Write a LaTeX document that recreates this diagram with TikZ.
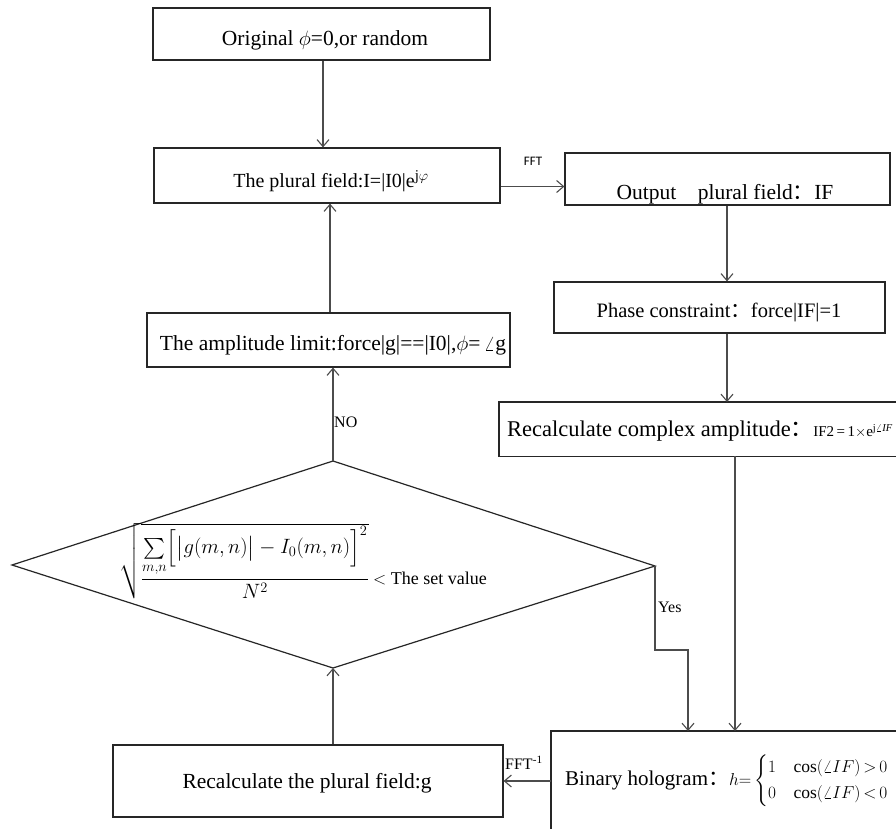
\documentclass[tikz,border=0pt]{standalone}
\usepackage{amsmath}
\usepackage{fontspec}
\setmainfont{Liberation Serif}
\newfontfamily\cjk{Noto Sans CJK SC}
\newfontfamily\fftfont{Carlito}
\usetikzlibrary{arrows.meta,calc}
\begin{document}
\begin{tikzpicture}[x=1pt,y=-1pt,
 box/.style={draw=black!85,line width=1.2pt,rectangle,inner sep=0pt},
 edge/.style={draw=black!85,line width=1.2pt},
 txt/.style={inner sep=0pt,font=\fontsize{21.5}{24}\selectfont},
 arr/.style={draw=black!70,line width=1.3pt,-{Straight Barb[length=7pt,width=12pt,line width=1.1pt]}},
 lbl/.style={inner sep=0pt,font=\fontsize{16}{18}\selectfont}]
\useasboundingbox[fill=white] (0,0) rectangle (896,829);

% column coordinates
\coordinate (c323) at (323,0);
\coordinate (c330) at (330,0);
\coordinate (c333) at (333,0);
\coordinate (c727) at (727,0);
\coordinate (c735) at (735,0);

% boxes
\node[box,minimum width=337pt,minimum height=52pt] (orig) at (321.5,34) {};
\node[txt] (origt) at (325,40) {Original $\phi$=0,or random};
\node[box,minimum width=346pt,minimum height=55pt] (plural) at (327,175.5) {};
\node[txt,font=\fontsize{20}{22}\selectfont] (pluralt) at (331,181) {The plural field:I=|I0|e\textsuperscript{\fontsize{15}{17}\selectfont j$\varphi$}};
\node[box,minimum width=325pt,minimum height=52pt] (out) at (727.5,179) {};
\node[txt] (outt) at (725,194) {Output\quad plural field{\cjk ：}IF};
\node[box,minimum width=331pt,minimum height=51pt] (phase) at (719.5,307.5) {};
\node[txt,font=\fontsize{20.5}{22}\selectfont] (phaset) at (719,312) {Phase constraint{\cjk ：}force|IF|=1};

\node[draw=none,inner sep=0pt,anchor=north west,minimum width=397pt,minimum height=54pt] (recalc) at (499,402) {};
\draw[edge] (recalc.north east) -- (recalc.north west) -- (recalc.south west) -- (recalc.south east);
\node[txt,anchor=west,font=\fontsize{22.5}{25}\selectfont] (recalct) at (507,431) {Recalculate complex amplitude{\cjk ：}{\fontsize{15}{17}\selectfont IF2\,=\,1$\times$e\textsuperscript{j$\angle$\textit{IF}}}};

\node[box,minimum width=363pt,minimum height=54pt] (amp) at (328.5,340) {};
\node[txt] (ampt) at (333,345) {The amplitude limit:force|g|==|I0|,$\phi$=\,$\angle$g};

% diamond
\coordinate (dt) at (333,461);
\coordinate (dr) at (655,566);
\coordinate (db) at (333,668);
\coordinate (dl) at (12,565);
\draw[edge] (dt) -- (dr) -- (db) -- (dl) -- cycle;
\node[inner sep=0pt,font=\fontsize{18}{21}\selectfont] (formula) at (303,561)
 {{\fontsize{21}{24}\selectfont$\sqrt{\dfrac{\sum\limits_{m,n}\Bigl[\bigl|g(m,n)\bigr|-I_0(m,n)\Bigr]^2}{N^2}}$} $<$ The set value};

\node[box,minimum width=390pt,minimum height=72pt] (gbox) at (308,781) {};
\node[txt] (gboxt) at (307,783) {Recalculate the plural field:g};

\node[draw=none,inner sep=0pt,anchor=north west,minimum width=345pt,minimum height=98pt] (bin) at (551,731) {};
\draw[edge] (bin.south west) -- (bin.north west) -- (bin.north east);
\node[txt,anchor=west,font=\fontsize{21}{23}\selectfont] (bint) at (565,781) {Binary hologram{\cjk ：}{\fontsize{17.5}{19}\selectfont$h{=}\begin{cases}1 & \cos(\angle IF)\,{>}\,0\\[3pt] 0 & \cos(\angle IF)\,{<}\,0\end{cases}$}};

% connectors
\draw[arr] (c323 |- orig.south) -- (c323 |- plural.north);
\coordinate (ffts) at ([yshift=-11pt]plural.east);
\draw[arr] (ffts) -- (ffts -| out.west);
\node[inner sep=0pt,font=\fftfont\fontsize{13}{15}\selectfont] (fftl) at (533,161) {FFT};
\draw[arr] (c727 |- out.south) -- (c727 |- phase.north);
\draw[arr] (c727 |- phase.south) -- (c727 |- recalc.north);
\draw[arr] (c735 |- recalc.south) -- (c735 |- bin.north);
\draw[arr] (c330 |- amp.north) -- (c330 |- plural.south);
\draw[arr] (dt) -- (dt |- amp.south);
\node[lbl,anchor=west] (nol) at (334,422) {NO};
\coordinate (yb) at (688,650);
\draw[arr] (dr) |- (yb) -- (yb |- bin.north);
\node[lbl,anchor=west] (yesl) at (658,607) {Yes};
\draw[arr] (bin.west |- gbox.east) -- (gbox.east);
\node[lbl,anchor=west] (fftinv) at (505,763) {FFT\textsuperscript{-1}};
\draw[arr] (c333 |- gbox.north) -- (db);
\end{tikzpicture}
\end{document}
